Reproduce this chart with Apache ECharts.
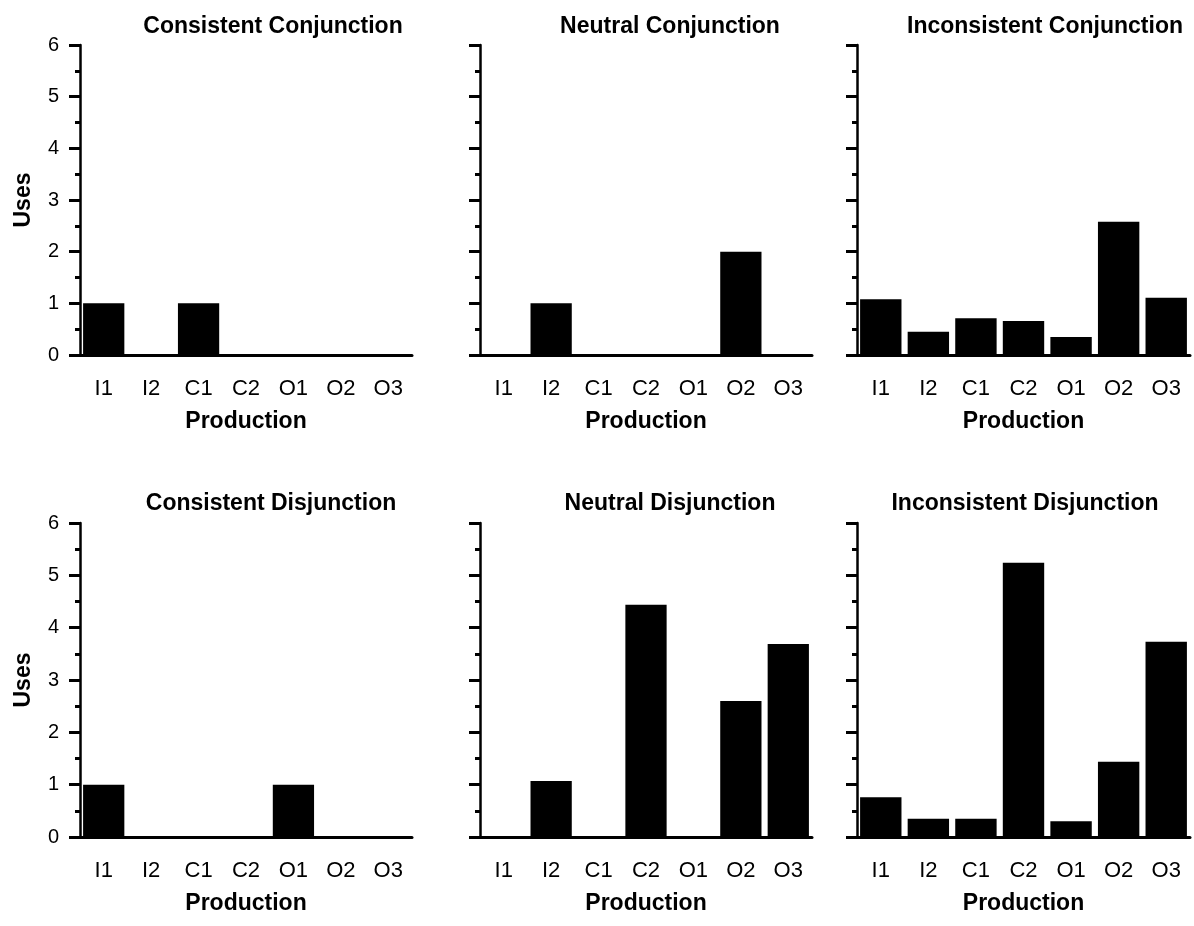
<!DOCTYPE html>
<html>
<head>
<meta charset="utf-8">
<script src="https://cdn.jsdelivr.net/npm/echarts@6/dist/echarts.min.js"></script>
<style>
html,body{margin:0;padding:0;background:#fff;}
#chart{width:1194px;height:926px;}
</style>
</head>
<body>
<div id="chart"></div>
<script>
const categories = ['I1','I2','C1','C2','O1','O2','O3'];
const yTicks = [0,1,2,3,4,5,6];
const titles = ['Consistent Conjunction','Neutral Conjunction','Inconsistent Conjunction',
                'Consistent Disjunction','Neutral Disjunction','Inconsistent Disjunction'];
const consistentConjunction   = [1, 0, 1, 0, 0, 0, 0];
const neutralConjunction      = [0, 1, 0, 0, 0, 2, 0];
const inconsistentConjunction = [1.08, 0.45, 0.71, 0.66, 0.35, 2.58, 1.11];
const consistentDisjunction   = [1, 0, 0, 0, 1, 0, 0];
const neutralDisjunction      = [0, 1.07, 0, 4.44, 0, 2.6, 3.69];
const inconsistentDisjunction = [0.76, 0.35, 0.35, 5.24, 0.3, 1.44, 3.73];
const seriesData = [consistentConjunction, neutralConjunction, inconsistentConjunction,
                    consistentDisjunction, neutralDisjunction, inconsistentDisjunction];

const lefts = [80, 480, 857];
const widths = [332, 332, 333];
const tops = [45, 523];
const heights = [310, 314];
const titleCenters = [[268, 665, 1040], [266, 665, 1020]];
const titleTops = [10, 487];

const boldText = {fontFamily: 'Liberation Sans', fontWeight: 'bold', fontSize: 23, color: '#000'};

const grid = [], xAxis = [], yAxis = [], series = [], title = [];
for (let i = 0; i < 6; i++) {
  const r = Math.floor(i / 3), c = i % 3;
  grid.push({left: lefts[c], top: tops[r], width: widths[c], height: heights[r], containLabel: false});
  title.push({
    text: titles[i], left: titleCenters[r][c], top: titleTops[r], textAlign: 'center',
    textStyle: boldText
  });
  xAxis.push({
    type: 'category', gridIndex: i, data: categories,
    name: 'Production', nameLocation: 'middle', nameGap: 55,
    nameTextStyle: boldText,
    axisLine: {show: true, lineStyle: {color: '#000', width: 3}},
    axisTick: {show: false},
    axisLabel: {fontFamily: 'Liberation Sans', fontSize: 22, color: '#000', margin: 23},
    splitLine: {show: false}
  });
  yAxis.push({
    type: 'value', gridIndex: i, min: yTicks[0], max: yTicks[yTicks.length - 1], interval: 1,
    name: c === 0 ? 'Uses' : '', nameLocation: 'middle', nameGap: 45,
    nameTextStyle: boldText,
    axisLine: {show: true, lineStyle: {color: '#000', width: 2.5}},
    axisTick: {show: true, inside: false, length: 11, lineStyle: {color: '#000', width: 3}},
    minorTick: {show: true, splitNumber: 2, length: 5, lineStyle: {color: '#000', width: 3}},
    axisLabel: {show: c === 0, fontFamily: 'Liberation Sans', fontSize: 20, color: '#000', margin: 21},
    splitLine: {show: false}
  });
  series.push({
    type: 'bar', xAxisIndex: i, yAxisIndex: i, data: seriesData[i],
    barCategoryGap: '13%', itemStyle: {color: '#000'}, animation: false
  });
}

const chart = echarts.init(document.getElementById('chart'));
chart.setOption({animation: false, backgroundColor: '#fff', title, grid, xAxis, yAxis, series});
</script>
</body>
</html>
